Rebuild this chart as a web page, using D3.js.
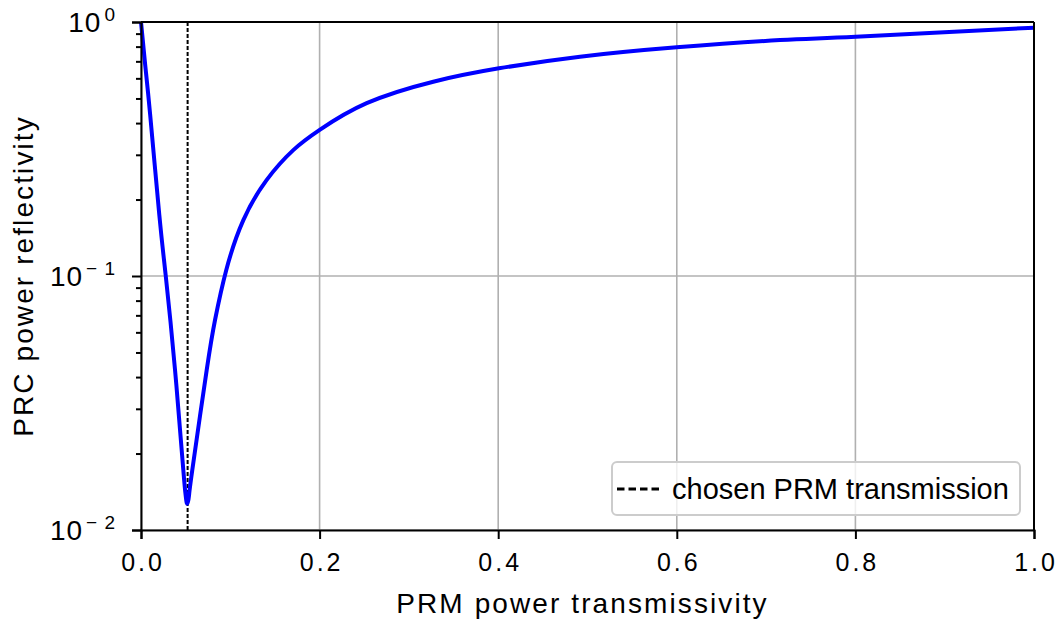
<!DOCTYPE html>
<html lang="en">
<head>
  <meta charset="UTF-8">
  <title>PRC power reflectivity</title>
  <script type="text/javascript" src="https://cdn.jsdelivr.net/npm/d3@7"></script>
  <style type="text/css">
  body {
    margin: 0;
    padding: 0;
    background: #fff;
  }
  svg text {
    font-family: "Liberation Sans", Arial, sans-serif;
    fill: #000;
  }
  .grid line {
    stroke: #b0b0b0;
    stroke-width: 1.6px;
  }
  .axis path, .axis line {
    stroke: #000;
    stroke-width: 2px;
  }
  .tickLabel {
    font-size: 25px;
    letter-spacing: 3px;
  }
  .axisLabel {
    font-size: 28px;
    letter-spacing: 2.1px;
  }
  </style>
</head>
<body>
  <div id="chart"></div>
</body>
<script type="text/javascript">
  // values
  var transT = [0, 0.0047, 0.0103, 0.0205, 0.0276, 0.0381, 0.0474, 0.0500, 0.0518, 0.0538, 0.0574,
    0.0736, 0.0829, 0.0955, 0.1146, 0.1408, 0.1705, 0.2001, 0.2527, 0.3273, 0.4009, 0.4916,
    0.5999, 0.7156, 0.8003, 1.0];
  var reflR = [1.0, 0.677, 0.430, 0.174, 0.101, 0.0427, 0.0172, 0.0137, 0.0127, 0.0137, 0.0172,
    0.0427, 0.0671, 0.1056, 0.166, 0.239, 0.313, 0.376, 0.479, 0.582, 0.657, 0.730,
    0.795, 0.849, 0.875, 0.950];
  var chosenT = 0.0522;
  var xTicks = [0, 0.2, 0.4, 0.6, 0.8, 1.0];
  var yTicks = [0.01, 0.1, 1];
  var yExps = ['\u2212 2', '\u2212 1', '0'];
  var legendText = 'chosen PRM transmission';

  var width = 1059, height = 623;
  var pL = 141, pR = 1034, pT = 22, pB = 530;

  var svg = d3.select('#chart')
    .append('svg')
    .attr('width', width)
    .attr('height', height);

  var xScale = d3.scaleLinear().domain([0, 1]).range([pL, pR]);
  var yScale = d3.scaleLog().domain([0.01, 1]).range([pB, pT]);

  // grid
  var grid = svg.append('g').attr('class', 'grid');
  grid.selectAll('.gx')
    .data(xTicks)
    .enter()
    .append('line')
    .attr('x1', function(d){ return xScale(d); })
    .attr('x2', function(d){ return xScale(d); })
    .attr('y1', pT)
    .attr('y2', pB);
  grid.selectAll('.gy')
    .data(yTicks)
    .enter()
    .append('line')
    .attr('x1', pL)
    .attr('x2', pR)
    .attr('y1', function(d){ return yScale(d); })
    .attr('y2', function(d){ return yScale(d); });

  // chosen transmission line
  svg.append('line')
    .attr('x1', xScale(chosenT))
    .attr('x2', xScale(chosenT))
    .attr('y1', pT)
    .attr('y2', pB)
    .attr('stroke', '#000')
    .attr('stroke-width', 2)
    .attr('stroke-dasharray', '4,2');

  // curve
  var line = d3.line()
    .x(function(d){ return xScale(d[0]); })
    .y(function(d){ return yScale(d[1]); })
    .curve(d3.curveNatural);

  svg.append('path')
    .datum(d3.zip(transT, reflR))
    .attr('d', line)
    .attr('fill', 'none')
    .attr('stroke', '#0000ff')
    .attr('stroke-width', 4)
    .attr('stroke-linejoin', 'round');

  // axes
  var xAxis = d3.axisBottom(xScale)
    .tickValues(xTicks)
    .tickSize(9)
    .tickPadding(8)
    .tickFormat(d3.format('.1f'));
  var xAxisG = svg.append('g')
    .attr('class', 'axis')
    .attr('transform', 'translate(0,' + pB + ')')
    .call(xAxis);
  xAxisG.selectAll('text')
    .attr('class', 'tickLabel')
    .attr('dy', '0.95em')
    .attr('dx', '1.5px');

  var minorY = [];
  [0.01, 0.1].forEach(function(b){
    for (var k = 2; k <= 9; k++) minorY.push(b * k);
  });
  var yMinor = d3.axisLeft(yScale).tickValues(minorY).tickSize(5).tickFormat('');
  svg.append('g')
    .attr('class', 'axis')
    .attr('transform', 'translate(' + pL + ',0)')
    .call(yMinor)
    .select('.domain').remove();

  var yAxis = d3.axisLeft(yScale).tickValues(yTicks).tickSize(9).tickFormat('');
  svg.append('g')
    .attr('class', 'axis')
    .attr('transform', 'translate(' + pL + ',0)')
    .call(yAxis);

  // y tick labels with superscripts
  var yLab = svg.selectAll('.ylab')
    .data(yTicks)
    .enter()
    .append('text')
    .attr('text-anchor', 'end')
    .attr('x', pL - 25)
    .attr('y', function(d){ return yScale(d) + 10; })
    .attr('font-size', '28px')
    .attr('letter-spacing', '1px');
  yLab.append('tspan').text('10');
  yLab.append('tspan')
    .attr('dx', 3)
    .attr('dy', -11)
    .attr('font-size', '19px')
    .text(function(d, i){ return yExps[i]; });

  // top and right frame
  svg.append('line')
    .attr('x1', pL).attr('x2', pR).attr('y1', pT).attr('y2', pT)
    .attr('stroke', '#000').attr('stroke-width', 2);
  svg.append('line')
    .attr('x1', pR).attr('x2', pR).attr('y1', pT).attr('y2', pB)
    .attr('stroke', '#000').attr('stroke-width', 2);

  // axis labels
  svg.append('text')
    .attr('class', 'axisLabel')
    .attr('text-anchor', 'middle')
    .attr('x', (pL + pR) / 2 - 5)
    .attr('y', 613)
    .text('PRM power transmissivity');
  svg.append('text')
    .attr('class', 'axisLabel')
    .attr('text-anchor', 'middle')
    .attr('transform', 'translate(33,' + ((pT + pB) / 2) + ') rotate(-90)')
    .text('PRC power reflectivity');

  // legend
  var lg = svg.append('g').attr('transform', 'translate(612,462)');
  lg.append('rect')
    .attr('width', 408)
    .attr('height', 53)
    .attr('rx', 5)
    .attr('fill', '#fff')
    .attr('fill-opacity', 0.8)
    .attr('stroke', '#cccccc')
    .attr('stroke-width', 2);
  lg.append('line')
    .attr('x1', 5).attr('x2', 51)
    .attr('y1', 27).attr('y2', 27)
    .attr('stroke', '#000')
    .attr('stroke-width', 3)
    .attr('stroke-dasharray', '7.5,4');
  lg.append('text')
    .attr('x', 60)
    .attr('y', 37)
    .attr('font-size', '29px')
    .text(legendText);
</script>
</html>
